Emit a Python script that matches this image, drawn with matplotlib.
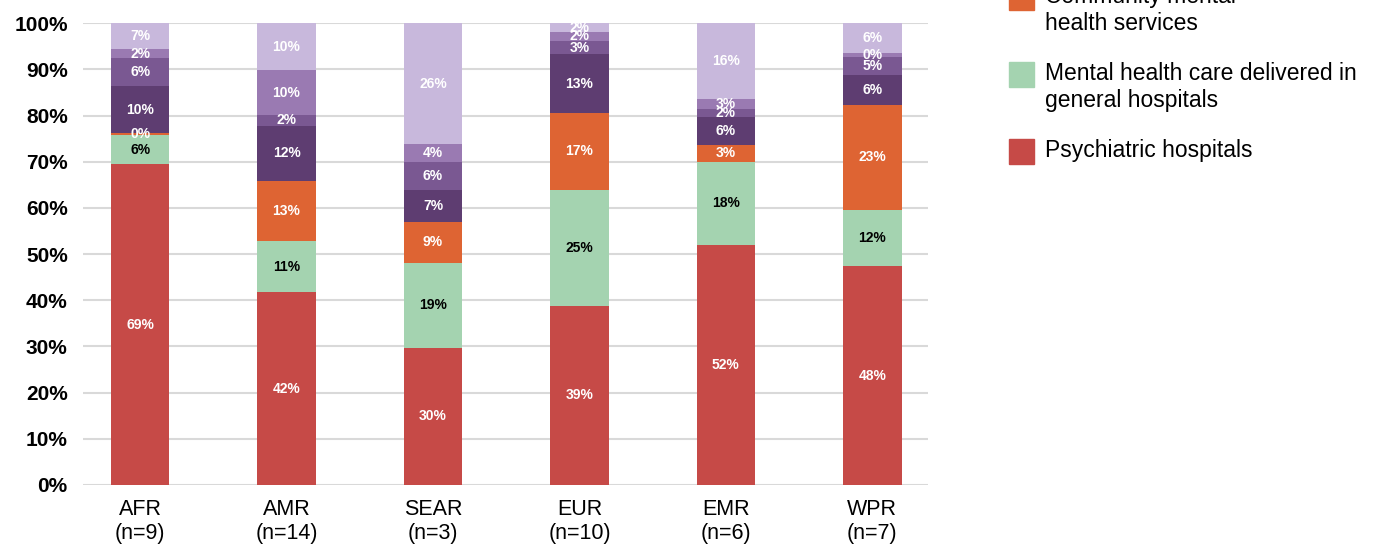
import numpy as np
import matplotlib
matplotlib.use("Agg")
import matplotlib.pyplot as plt
from matplotlib.patches import Rectangle

plt.rcParams['font.family'] = ['Liberation Sans', 'DejaVu Sans']

regions = ["AFR\n(n=9)", "AMR\n(n=14)", "SEAR\n(n=3)", "EUR\n(n=10)", "EMR\n(n=6)", "WPR\n(n=7)"]

# segment heights (% of total), bottom to top
psychiatric = [69.5, 41.7, 29.7, 38.8, 52.0, 47.4]
general_hosp = [6.3, 11.2, 18.4, 25.1, 18.0, 12.1]
community = [0.4, 13.0, 8.9, 16.7, 3.6, 22.9]
dark_purple = [10.2, 11.9, 6.9, 12.7, 6.2, 6.3]
mid_purple = [6.1, 2.3, 6.0, 2.9, 1.6, 4.1]
light_purple = [1.9, 9.8, 4.0, 1.9, 2.2, 0.8]
lavender = [5.6, 10.1, 26.1, 1.9, 16.4, 6.4]

# labels printed on the segments
psychiatric_lbl = [69, 42, 30, 39, 52, 48]
general_lbl = [6, 11, 19, 25, 18, 12]
community_lbl = [0, 13, 9, 17, 3, 23]
dark_lbl = [10, 12, 7, 13, 6, 6]
mid_lbl = [6, 2, 6, 3, 2, 5]
light_lbl = [2, 10, 4, 2, 3, 0]
lavender_lbl = [7, 10, 26, 2, 16, 6]

series = [
    ("Psychiatric hospitals", psychiatric, psychiatric_lbl, "#C64A47", "white"),
    ("Mental health care delivered in\ngeneral hospitals", general_hosp, general_lbl, "#A4D3B0", "black"),
    ("Community mental\nhealth services", community, community_lbl, "#DE6433", "white"),
    ("Outpatient services", dark_purple, dark_lbl, "#5E3D71", "white"),
    ("Day treatment", mid_purple, mid_lbl, "#7A5892", "white"),
    ("Residential facilities", light_purple, light_lbl, "#9A7AB2", "white"),
    ("Other", lavender, lavender_lbl, "#C8B8DC", "white"),
]

W, H = 1375, 547
fig = plt.figure(figsize=(W / 100, H / 100), dpi=100)
ax = fig.add_axes([83 / W, 1 - 485 / H, (928 - 83) / W, (485 - 23.3) / H])

x = np.arange(len(regions))
bottom = np.zeros(len(regions))
for name, vals, lbls, col, tcol in series:
    bars = ax.bar(x, vals, 0.40, bottom=bottom, color=col, zorder=3)
    ax.bar_label(bars, labels=[f"{v}%" for v in lbls], label_type='center',
                 color=tcol, fontsize=10, fontweight='bold', zorder=4)
    bottom += np.array(vals)

ax.set_xlim(-0.39, 5.38)
ax.set_ylim(0, 100)
ax.set_yticks(np.arange(0, 101, 10))
ax.set_yticklabels([f"{t}%" for t in range(0, 101, 10)], fontsize=15, fontweight='bold')
ax.set_xticks(x)
ax.set_xticklabels(regions, fontsize=15.5)
ax.tick_params(axis='y', length=0, pad=11)
ax.tick_params(axis='x', length=0, pad=10)
ax.yaxis.grid(True, color="#D9D9D9", linewidth=1.5, zorder=0)
for s in ax.spines.values():
    s.set_visible(False)

# legend drawn by hand, top entries run off the canvas like the original
step = 77
top_px = 139
for i, (name, vals, lbls, col, tcol) in enumerate(series):
    y0 = top_px - i * step
    if y0 + 40 < 0:
        continue
    fig.add_artist(Rectangle((1009 / W, 1 - (y0 + 25) / H), 25 / W, 25 / H,
                             transform=fig.transFigure, color=col))
    fig.text(1045 / W, 1 - (y0 + 0.5) / H, name, fontsize=16.5, va='top', ha='left',
             linespacing=1.2)

fig.savefig("out.png", dpi=100)
